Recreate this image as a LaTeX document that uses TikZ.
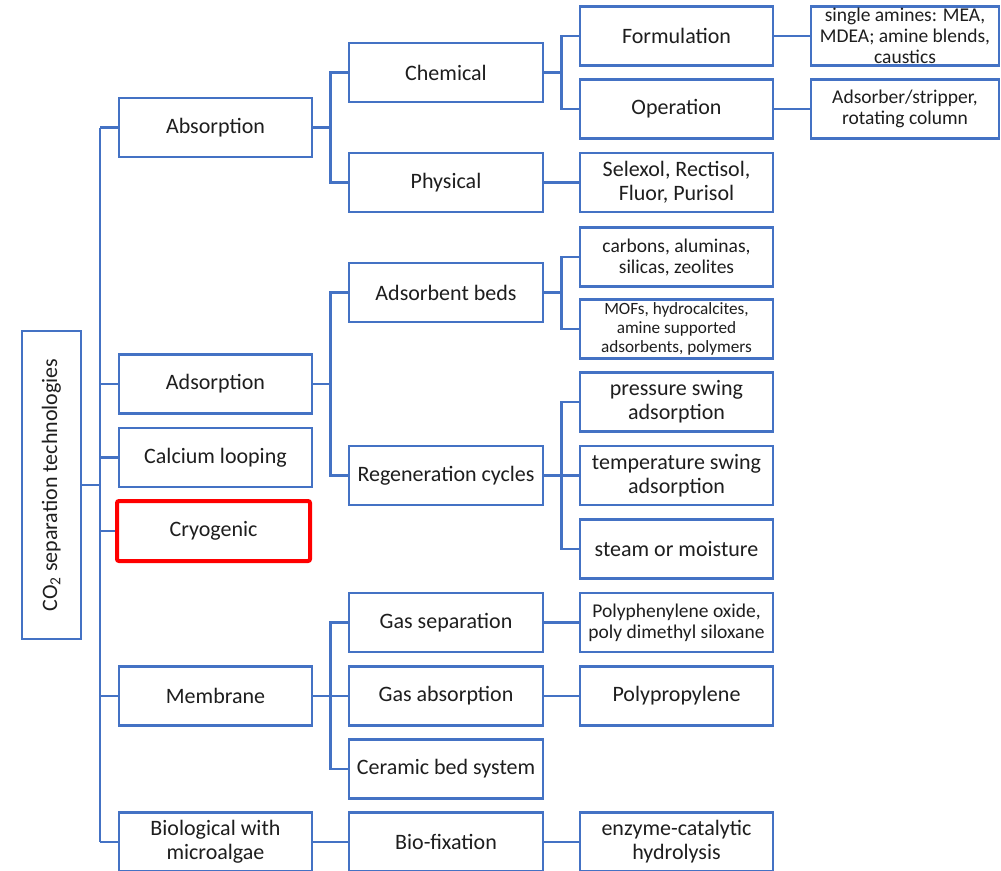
\documentclass[tikz,border=0pt]{standalone}
\usepackage{fontspec}
\setmainfont{Carlito}
\usepackage{graphicx}
\definecolor{lineblue}{RGB}{68,114,196}
\definecolor{txt}{RGB}{30,30,30}
\begin{document}
\begin{tikzpicture}[x=1pt,y=-1pt,
  box/.style={draw=lineblue, line width=2.2pt, inner sep=0pt, minimum height=59pt, align=center, text=txt, font=\fontsize{22}{24}\selectfont},
  wa/.style={minimum width=193pt},
  wb/.style={minimum width=194pt},
  wc/.style={minimum width=193pt},
  wd/.style={minimum width=188pt},
  small/.style={font=\fontsize{19.5}{21}\selectfont},
  tiny/.style={font=\fontsize{17.2}{19}\selectfont},
  redbox/.style={draw=red, line width=4pt, rounded corners=2pt, inner sep=0pt, minimum width=193pt, minimum height=60pt, text=txt, font=\fontsize{22}{24}\selectfont},
  conn/.style={draw=lineblue, line width=2.2pt}]
\useasboundingbox (0,0) rectangle (1001,870);
\fill[white] (0,0) rectangle (1001,870);

% root
\node[box, minimum width=59pt, minimum height=308pt] (root) at (51.5,485) {\rotatebox{90}{CO\textsubscript{2} separation technologies}};

% level 1
\node[box,wa] (absn) at (215.5,127.5) {Absorption};
\node[box,wa] (adsn) at (215.5,384) {Adsorption};
\node[box,wa] (calc) at (215.5,457.5) {Calcium looping};
\node[redbox] (cryo) at (213.5,531) {Cryogenic};
\node[box,wa] (memb) at (215.5,696) {Membrane};
\node[box,wa] (bio) at (215.5,842) {Biological with\\microalgae};

% level 2
\node[box,wb] (chem) at (446,72.5) {Chemical};
\node[box,wb] (phys) at (446,182.5) {Physical};
\node[box,wb] (beds) at (446,292.5) {Adsorbent beds};
\node[box,wb] (regen) at (446,475.5) {Regeneration cycles};
\node[box,wb] (gsep) at (446,622.5) {Gas separation};
\node[box,wb] (gabs) at (446,696) {Gas absorption};
\node[box,wb] (cer) at (446,769) {Ceramic bed system};
\node[box,wb] (fix) at (446,842) {Bio-fixation};

% level 3
\node[box,wc] (form) at (676.5,36) {Formulation};
\node[box,wc] (oper) at (676.5,109) {Operation};
\node[box,wc] (selx) at (676.5,182.5) {Selexol, Rectisol,\\Fluor, Purisol};
\node[box,wc,small] (carb) at (676.5,257) {carbons, aluminas,\\silicas, zeolites};
\node[box,wc,tiny] (mofs) at (676.5,329) {MOFs, hydrocalcites,\\amine supported\\adsorbents, polymers};
\node[box,wc] (psa) at (676.5,402) {pressure swing\\adsorption};
\node[box,wc] (tsa) at (676.5,475.5) {temperature swing\\adsorption};
\node[box,wc] (steam) at (676.5,549) {steam or moisture};
\node[box,wc,small] (ppo) at (676.5,622.5) {Polyphenylene oxide,\\poly dimethyl siloxane};
\node[box,wc] (pp) at (676.5,696) {Polypropylene};
\node[box,wc] (enz) at (676.5,842) {enzyme-catalytic\\hydrolysis};

% level 4
\node[box,wd,small] (amine) at (905,36) {single amines: MEA,\\MDEA; amine blends,\\caustics};
\node[box,wd,small] (strip) at (905,109) {Adsorber/stripper,\\rotating column};

% connectors: trunk
\coordinate (tr) at (100,0);
\draw[conn] (root.east) -- (tr |- root.east);
\draw[conn] (tr |- absn.west) -- (tr |- bio.west);
\foreach \n in {absn,adsn,calc,cryo,memb,bio}
  \draw[conn] (tr |- \n.west) -- (\n.west);

% level 2 junctions
\coordinate (jb) at (330.5,0);
\draw[conn] (absn.east) -- (jb |- absn.east);
\draw[conn] (chem.west) -- (jb |- chem.west) -- (jb |- phys.west) -- (phys.west);
\draw[conn] (adsn.east) -- (jb |- adsn.east);
\draw[conn] (beds.west) -- (jb |- beds.west) -- (jb |- regen.west) -- (regen.west);
\draw[conn] (memb.east) -- (gabs.west);
\draw[conn] (gsep.west) -- (jb |- gsep.west) -- (jb |- cer.west) -- (cer.west);
\draw[conn] (bio.east) -- (fix.west);

% level 3 junctions
\coordinate (jc) at (561.5,0);
\draw[conn] (chem.east) -- (jc |- chem.east);
\draw[conn] (form.west) -- (jc |- form.west) -- (jc |- oper.west) -- (oper.west);
\draw[conn] (phys.east) -- (selx.west);
\draw[conn] (beds.east) -- (jc |- beds.east);
\draw[conn] (carb.west) -- (jc |- carb.west) -- (jc |- mofs.west) -- (mofs.west);
\draw[conn] (regen.east) -- (tsa.west);
\draw[conn] (psa.west) -- (jc |- psa.west) -- (jc |- steam.west) -- (steam.west);
\draw[conn] (gsep.east) -- (ppo.west);
\draw[conn] (gabs.east) -- (pp.west);
\draw[conn] (fix.east) -- (enz.west);

% level 4
\draw[conn] (form.east) -- (amine.west);
\draw[conn] (oper.east) -- (strip.west);
\end{tikzpicture}
\end{document}
